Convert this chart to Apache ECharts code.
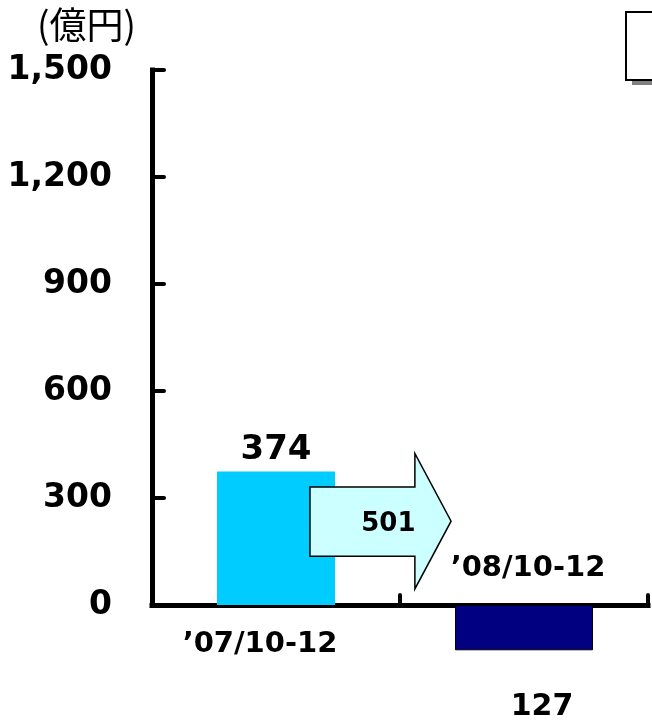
<!DOCTYPE html>
<html>
<head>
<meta charset="utf-8">
<script src="https://cdn.jsdelivr.net/npm/echarts@6/dist/echarts.min.js"></script>
<style>
  html, body { margin: 0; padding: 0; background: #fff; }
  #chart { width: 652px; height: 721px; }
</style>
</head>
<body>
<div id="chart"></div>
<script>
// Quarterly figures (unit: 100 million yen)
const categories = ['’07/10-12', '’08/10-12'];
const profit = [374, -127];
const yTickLabels = ['0', '300', '600', '900', '1,200', '1,500'];
const unitLabel = '(億円)';

const NUM_FONT = '"DejaVu Sans", sans-serif';
const change = profit[0] - profit[1];

const chart = echarts.init(document.getElementById('chart'));

// Change arrow between the two quarters plus the period captions
function renderNotes(params, api) {
  const a = api.coord([0, 0]);
  const b = api.coord([1, 0]);
  const step = b[0] - a[0];
  const y = v => api.coord([0, v])[1];
  const xs = a[0] + step * 0.137;
  const xh = a[0] + step * 0.56;
  const xt = a[0] + step * 0.706;
  const bodyTop = y(331), bodyBot = y(137);
  const headTop = y(425), headBot = y(45), tipY = y(235);
  return {
    type: 'group',
    children: [
      {
        type: 'polygon',
        shape: {
          points: [
            [xs, bodyTop], [xh, bodyTop], [xh, headTop], [xt, tipY],
            [xh, headBot], [xh, bodyBot], [xs, bodyBot]
          ]
        },
        style: { fill: '#CCFFFF', stroke: '#000', lineWidth: 1.5 }
      },
      {
        type: 'text',
        x: a[0] + step * 0.453,
        y: (bodyTop + bodyBot) / 2 + 3,
        style: {
          text: String(change), font: 'bold 26px ' + NUM_FONT, fill: '#000',
          align: 'center', verticalAlign: 'middle'
        }
      },
      {
        type: 'text',
        x: a[0] - 16,
        y: a[1] + 39,
        style: {
          text: categories[0], font: 'bold 29px ' + NUM_FONT, fill: '#000',
          align: 'center', verticalAlign: 'middle'
        }
      },
      {
        type: 'text',
        x: b[0] + 4,
        y: b[1] - 37,
        style: {
          text: categories[1], font: 'bold 29px ' + NUM_FONT, fill: '#000',
          align: 'center', verticalAlign: 'middle'
        }
      }
    ]
  };
}

chart.setOption({
  animation: false,
  backgroundColor: '#fff',
  title: {
    text: unitLabel,
    left: 37,
    top: 6,
    padding: 0,
    textStyle: {
      fontFamily: '"Noto Sans CJK JP", sans-serif',
      fontWeight: 'normal',
      fontSize: 37,
      lineHeight: 38,
      color: '#000'
    }
  },
  // Legend frame; its entries sit beyond the right edge of the canvas
  legend: {
    orient: 'vertical',
    left: 626,
    top: 12,
    padding: [13, 10, 13, 60],
    itemGap: 12,
    itemWidth: 20,
    itemHeight: 14,
    borderColor: '#000',
    borderWidth: 2,
    backgroundColor: '#fff',
    textStyle: { fontSize: 14, color: '#000' },
    data: categories
  },
  graphic: [
    {
      type: 'rect',
      z: 0,
      silent: true,
      shape: { x: 632, y: 19, width: 40, height: 66 },
      style: { fill: '#808080' }
    }
  ],
  grid: { left: 152, right: 4, top: 70, bottom: 116, containLabel: false },
  xAxis: [
    {
      type: 'category',
      data: categories,
      axisLine: { lineStyle: { color: '#000', width: 5, cap: 'square' } },
      axisTick: { show: true, inside: true, length: 10, lineStyle: { color: '#000', width: 4, cap: 'round' } },
      axisLabel: { show: false }
    },
    {
      type: 'category',
      data: categories,
      show: false
    }
  ],
  yAxis: {
    type: 'value',
    min: 0,
    max: 1500,
    interval: 300,
    axisLine: { show: true, lineStyle: { color: '#000', width: 5, cap: 'square' } },
    axisTick: { show: true, inside: true, length: 12, lineStyle: { color: '#000', width: 4, cap: 'round' } },
    splitLine: { show: false },
    axisLabel: {
      formatter: (v, i) => yTickLabels[i],
      fontFamily: NUM_FONT,
      fontWeight: 'bold',
      fontSize: 33,
      color: '#000',
      margin: 40
    }
  },
  series: [
    {
      name: categories[0],
      type: 'bar',
      xAxisIndex: 0,
      barWidth: 118,
      clip: false,
      data: [profit[0], '-'],
      itemStyle: { color: '#00CCFF' },
      label: {
        show: true,
        position: 'top',
        distance: 4,
        formatter: p => String(p.value),
        fontFamily: NUM_FONT,
        fontWeight: 'bold',
        fontSize: 34,
        color: '#000'
      },
      z: 2
    },
    {
      name: categories[1],
      type: 'bar',
      xAxisIndex: 1,
      barWidth: 138,
      clip: false,
      data: ['-', profit[1]],
      itemStyle: { color: '#000080', borderColor: '#000', borderWidth: 1 },
      label: {
        show: true,
        position: 'bottom',
        distance: 42,
        offset: [18, 0],
        formatter: p => String(Math.abs(p.value)),
        fontFamily: NUM_FONT,
        fontWeight: 'bold',
        fontSize: 30,
        color: '#000'
      },
      z: 2
    },
    {
      type: 'custom',
      xAxisIndex: 0,
      clip: false,
      silent: true,
      renderItem: renderNotes,
      data: [[0, 0]],
      z: 5
    }
  ]
});
</script>
</body>
</html>
